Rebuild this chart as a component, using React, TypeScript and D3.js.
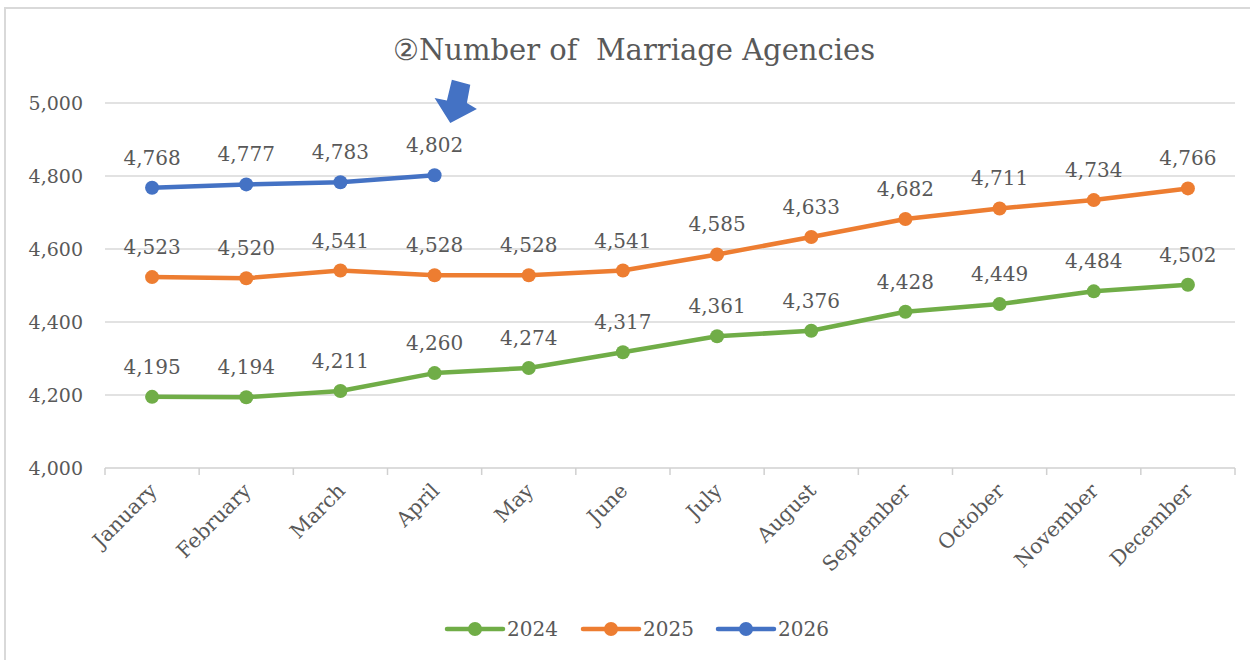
import React from "react";
import * as d3 from "d3";

const months = ["January","February","March","April","May","June","July","August","September","October","November","December"];
const values2024 = [4195,4194,4211,4260,4274,4317,4361,4376,4428,4449,4484,4502];
const values2025 = [4523,4520,4541,4528,4528,4541,4585,4633,4682,4711,4734,4766];
const values2026 = [4768,4777,4783,4802];
const seriesNames = ["2024","2025","2026"];
const seriesColors = ["#70ad47","#ed7d31","#4472c4"];
const yTicks = [4000,4200,4400,4600,4800,5000];
const title = "②Number of  Marriage Agencies";

const W = 1250, H = 660;
const FONT = "'DejaVu Serif', 'Liberation Serif', serif";
const TXT = "#595959";

export default function App() {
  const x = d3.scalePoint<string>().domain(months).range([105, 1235]).padding(0.5);
  const band = x.step();
  const y = d3.scaleLinear().domain([4000, 5000]).range([468, 103]);
  const fmt = d3.format(",");
  const all = [values2024, values2025, values2026];
  const line = d3.line<number>().x((_, i) => x(months[i])!).y((v) => y(v));

  // arrow annotation near April of 2026
  const ax = x("April")! + 17;
  const ay = y(5000) + 20;
  const arrowPts: [number, number][] = [
    [0.3, -43.3],[18.7,-38.3],[15.3,-20],[25.3,-14],[-1.3,0],[-17,-25],[-4.7,-22.6]
  ];
  const arrowPath = "M" + arrowPts.map(p => `${ax + p[0]},${ay + p[1]}`).join("L") + "Z";

  const legendX = [447, 583, 718];

  return (
    <svg width={W} height={H} style={{ position: "absolute", left: 0, top: 0, background: "#fff" }} fontFamily={FONT}>
      <rect x={5} y={8} width={W} height={H} fill="#fff" stroke="#d9d9d9" strokeWidth={2} />
      <text x={634} y={60} textAnchor="middle" fontSize={29} fill={TXT} style={{ whiteSpace: "pre" }}>{title}</text>
      {yTicks.map((t) => (
        <g key={t}>
          <line x1={105} x2={1235} y1={y(t)} y2={y(t)} stroke={t === 4000 ? "#d0d0d0" : "#d9d9d9"} strokeWidth={1.5} />
          <text x={83} y={y(t) + 7} textAnchor="end" fontSize={19} fill={TXT}>{fmt(t)}</text>
        </g>
      ))}
      {d3.range(months.length + 1).map((i) => {
        const tx = 105 + i * band;
        return <line key={i} x1={tx} x2={tx} y1={468} y2={475} stroke="#d0d0d0" strokeWidth={1.5} />;
      })}
      {months.map((m) => (
        <text key={m} transform={`translate(${x(m)! + 6},${492}) rotate(-45)`} textAnchor="end" fontSize={20.5} fill={TXT}>{m}</text>
      ))}
      {all.map((vals, si) => (
        <g key={si}>
          <path d={line(vals) || ""} fill="none" stroke={seriesColors[si]} strokeWidth={4.5} strokeLinejoin="round" strokeLinecap="round" />
          {vals.map((v, i) => (
            <circle key={i} cx={x(months[i])} cy={y(v)} r={7} fill={seriesColors[si]} />
          ))}
          {vals.map((v, i) => (
            <text key={"t" + i} x={x(months[i])} y={y(v) - 23} textAnchor="middle" fontSize={20} fill={TXT}>{fmt(v)}</text>
          ))}
        </g>
      ))}
      <path d={arrowPath} fill="#4472c4" />
      {seriesNames.map((n, i) => (
        <g key={n}>
          <line x1={legendX[i]} x2={legendX[i] + 56} y1={629} y2={629} stroke={seriesColors[i]} strokeWidth={4.5} strokeLinecap="round" />
          <circle cx={legendX[i] + 28} cy={629} r={7} fill={seriesColors[i]} />
          <text x={legendX[i] + 60} y={636} fontSize={20} fill={TXT}>{n}</text>
        </g>
      ))}
    </svg>
  );
}
